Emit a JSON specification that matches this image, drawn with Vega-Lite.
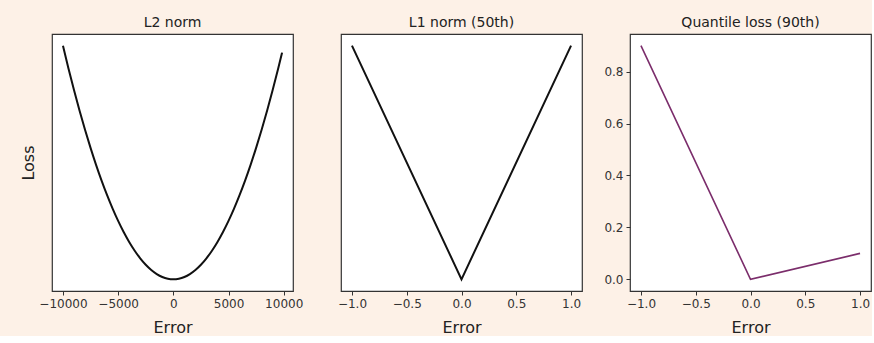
{
  "$schema": "https://vega.github.io/schema/vega-lite/v6.json",
  "background": "#fdf1e7",
  "padding": {"left": 19, "top": 15, "right": 0, "bottom": 0},
  "datasets": {
    "l2": [
      {"error": -10000, "loss": 100000000},
      {"error": -9500, "loss": 90250000},
      {"error": -9000, "loss": 81000000},
      {"error": -8500, "loss": 72250000},
      {"error": -8000, "loss": 64000000},
      {"error": -7500, "loss": 56250000},
      {"error": -7000, "loss": 49000000},
      {"error": -6500, "loss": 42250000},
      {"error": -6000, "loss": 36000000},
      {"error": -5500, "loss": 30250000},
      {"error": -5000, "loss": 25000000},
      {"error": -4500, "loss": 20250000},
      {"error": -4000, "loss": 16000000},
      {"error": -3500, "loss": 12250000},
      {"error": -3000, "loss": 9000000},
      {"error": -2500, "loss": 6250000},
      {"error": -2000, "loss": 4000000},
      {"error": -1500, "loss": 2250000},
      {"error": -1000, "loss": 1000000},
      {"error": -500, "loss": 250000},
      {"error": 0, "loss": 0},
      {"error": 500, "loss": 250000},
      {"error": 1000, "loss": 1000000},
      {"error": 1500, "loss": 2250000},
      {"error": 2000, "loss": 4000000},
      {"error": 2500, "loss": 6250000},
      {"error": 3000, "loss": 9000000},
      {"error": 3500, "loss": 12250000},
      {"error": 4000, "loss": 16000000},
      {"error": 4500, "loss": 20250000},
      {"error": 5000, "loss": 25000000},
      {"error": 5500, "loss": 30250000},
      {"error": 6000, "loss": 36000000},
      {"error": 6500, "loss": 42250000},
      {"error": 7000, "loss": 49000000},
      {"error": 7500, "loss": 56250000},
      {"error": 8000, "loss": 64000000},
      {"error": 8500, "loss": 72250000},
      {"error": 9000, "loss": 81000000},
      {"error": 9500, "loss": 90250000},
      {"error": 9850, "loss": 97022500}
    ],
    "l1": [
      {"error": -1, "loss": 1},
      {"error": 0, "loss": 0},
      {"error": 1, "loss": 1}
    ],
    "q90": [
      {"error": -1, "loss": 0.9},
      {"error": 0, "loss": 0},
      {"error": 1, "loss": 0.1}
    ]
  },
  "spacing": 48,
  "bounds": "flush",
  "hconcat": [
    {
      "width": 241,
      "height": 257,
      "title": "L2 norm",
      "data": {"name": "l2"},
      "mark": {"type": "line", "color": "#111111", "strokeWidth": 2, "interpolate": "monotone"},
      "encoding": {
        "x": {"field": "error", "type": "quantitative", "title": "Error",
              "scale": {"domain": [-10992, 10842], "nice": false, "zero": false},
              "axis": {"values": [-10000, -5000, 0, 5000, 10000], "format": "d"}},
        "y": {"field": "loss", "type": "quantitative", "title": "Loss",
              "scale": {"domain": [-5000000, 105000000], "nice": false, "zero": false},
              "axis": {"labels": false, "ticks": false, "titlePadding": 16}}
      }
    },
    {
      "width": 241,
      "height": 257,
      "title": "L1 norm (50th)",
      "data": {"name": "l1"},
      "mark": {"type": "line", "color": "#111111", "strokeWidth": 2},
      "encoding": {
        "x": {"field": "error", "type": "quantitative", "title": "Error",
              "scale": {"domain": [-1.1, 1.1], "nice": false, "zero": false},
              "axis": {"values": [-1, -0.5, 0, 0.5, 1], "format": ".1f"}},
        "y": {"field": "loss", "type": "quantitative", "title": null,
              "scale": {"domain": [-0.05, 1.05], "nice": false, "zero": false},
              "axis": {"labels": false, "ticks": false}}
      }
    },
    {
      "width": 241,
      "height": 257,
      "title": "Quantile loss (90th)",
      "data": {"name": "q90"},
      "mark": {"type": "line", "color": "#7b2d6b", "strokeWidth": 1.6},
      "encoding": {
        "x": {"field": "error", "type": "quantitative", "title": "Error",
              "scale": {"domain": [-1.1, 1.1], "nice": false, "zero": false},
              "axis": {"values": [-1, -0.5, 0, 0.5, 1], "format": ".1f"}},
        "y": {"field": "loss", "type": "quantitative", "title": null,
              "scale": {"domain": [-0.045, 0.945], "nice": false, "zero": false},
              "axis": {"values": [0, 0.2, 0.4, 0.6, 0.8], "format": ".1f"}}
      }
    }
  ],
  "config": {
    "font": "DejaVu Sans",
    "view": {"fill": "white", "stroke": "#333333", "strokeWidth": 1.2},
    "title": {"fontSize": 14, "fontWeight": "normal", "font": "DejaVu Sans", "color": "#222222", "offset": 4},
    "axis": {
      "grid": false,
      "domain": false,
      "tickSize": 4,
      "tickColor": "#333333",
      "tickWidth": 1,
      "labelFont": "DejaVu Sans",
      "labelFontSize": 12,
      "labelColor": "#333333",
      "labelPadding": 3,
      "labelFlush": false,
      "labelOverlap": false,
      "titleFont": "DejaVu Sans",
      "titleFontSize": 16,
      "titleFontWeight": "normal",
      "titleColor": "#222222"
    },
    "axisX": {"titlePadding": 10},
    "axisY": {"labelPadding": 3}
  }
}
